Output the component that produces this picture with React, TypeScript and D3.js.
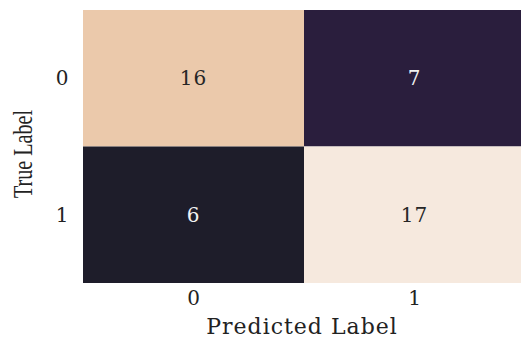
import React from "react";
import * as d3 from "d3";

// Confusion matrix: rows = true label, columns = predicted label
const classLabels = ["0", "1"];
const matrixRows = [
  [16, 7],
  [6, 17],
];
// Colour stops for the heatmap (count -> colour)
const colorDomain = [6, 7, 16, 17];
const colorRange = ["#1e1d2a", "#2a1e3d", "#ebc9ab", "#f6e9de"];

const W = 521;
const H = 338;
const margin = { left: 83, top: 10, right: -4, bottom: 55 };

export default function App() {
  const x = d3
    .scaleBand<string>()
    .domain(classLabels)
    .range([margin.left, W - margin.right])
    .padding(0);
  const y = d3
    .scaleBand<string>()
    .domain(classLabels)
    .range([margin.top, H - margin.bottom])
    .padding(0);
  const color = d3
    .scaleLinear<string>()
    .domain(colorDomain)
    .range(colorRange)
    .interpolate(d3.interpolateRgb);

  const cells = matrixRows.flatMap((row, ri) =>
    row.map((v, ci) => ({ r: classLabels[ri], c: classLabels[ci], v }))
  );
  const mid = (d3.min(colorDomain)! + d3.max(colorDomain)!) / 2;
  const font = "'DejaVu Serif', serif";

  return (
    <svg
      width={W}
      height={H}
      style={{ position: "absolute", left: 0, top: 0, background: "#fff" }}
    >
      {cells.map((d) => (
        <g key={d.r + d.c}>
          <rect
            x={x(d.c)}
            y={y(d.r)}
            width={x.bandwidth()}
            height={y.bandwidth()}
            fill={color(d.v)}
          />
          <text
            x={x(d.c)! + x.bandwidth() / 2}
            y={y(d.r)! + y.bandwidth() / 2}
            dy="0.36em"
            textAnchor="middle"
            fontFamily={font}
            fontSize={20}
            letterSpacing={1}
            fill={d.v > mid ? "#262626" : "#f2f2f2"}
          >
            {d.v}
          </text>
        </g>
      ))}
      {classLabels.map((l) => (
        <text
          key={"y" + l}
          x={62}
          y={y(l)! + y.bandwidth() / 2}
          dy="0.36em"
          textAnchor="middle"
          fontFamily={font}
          fontSize={20}
          fill="#222"
        >
          {l}
        </text>
      ))}
      {classLabels.map((l) => (
        <text
          key={"x" + l}
          x={x(l)! + x.bandwidth() / 2}
          y={298}
          dy="0.36em"
          textAnchor="middle"
          fontFamily={font}
          fontSize={20}
          fill="#222"
        >
          {l}
        </text>
      ))}
      <text
        x={302}
        y={334}
        textAnchor="middle"
        fontFamily={font}
        fontSize={22}
        fill="#222"
        letterSpacing={1}
      >
        Predicted Label
      </text>
      <text
        transform={`translate(32,${154}) rotate(-90) scale(0.72,1)`}
        textAnchor="middle"
        fontFamily="'Liberation Serif', serif"
        fontSize={28}
        fill="#222"
      >
        True Label
      </text>
    </svg>
  );
}
